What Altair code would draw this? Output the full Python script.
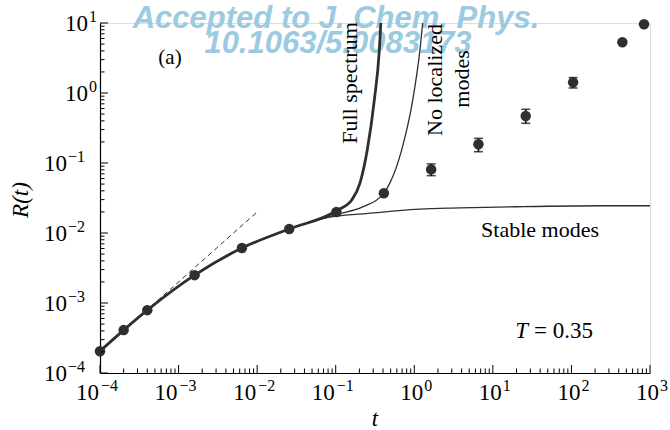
import altair as alt
import pandas as pd

# ---- simulation points R(t) with error bars ----
pt_t = [1e-4, 2e-4, 4e-4, 1.6e-3, 6.4e-3, 2.56e-2, 0.102, 0.41, 1.64, 6.55, 26.2, 105, 445, 839]
pt_R = [2.05e-4, 4.1e-4, 7.9e-4, 2.5e-3, 6.1e-3, 1.14e-2, 0.020, 0.037, 0.081, 0.185, 0.469, 1.42, 5.3, 9.6]

err_t = [1.64, 6.55, 26.2, 105]
err_lo = [0.066, 0.145, 0.369, 1.18]
err_hi = [0.097, 0.225, 0.585, 1.66]

# ---- harmonic predictions ----
full_t = [1e-4, 2e-4, 4e-4, 1.6e-3, 6.4e-3, 2.56e-2, 0.107, 0.16, 0.204, 0.252, 0.31, 0.359, 0.375]
full_R = [2.05e-4, 4.1e-4, 7.9e-4, 2.5e-3, 6.1e-3, 1.14e-2, 0.0213, 0.0296, 0.052, 0.153, 0.79, 4.1, 10.0]

noloc_t = [1e-4, 2e-4, 4e-4, 1.6e-3, 6.4e-3, 2.56e-2, 0.104, 0.224, 0.415, 0.49, 0.69, 0.955, 1.18, 1.28]
noloc_R = [2.05e-4, 4.1e-4, 7.9e-4, 2.5e-3, 6.1e-3, 1.14e-2, 0.0185, 0.0238, 0.0377, 0.052, 0.153, 0.79, 4.1, 10.0]

stable_t = [1e-4, 2e-4, 4e-4, 1.6e-3, 6.4e-3, 2.56e-2, 0.07, 0.26, 1.18, 3.8, 20, 231, 1000]
stable_R = [2.05e-4, 4.1e-4, 7.9e-4, 2.5e-3, 6.1e-3, 1.14e-2, 0.0162, 0.0191, 0.022, 0.0228, 0.0237, 0.0245, 0.0245]

# short-time ballistic guide
dash_t = [1e-4, 1e-2]
dash_R = [2e-4, 2e-2]

# ---- axis decades and tick labels ----
x_exponents = [-4, -3, -2, -1, 0, 1, 2, 3]
x_exp_labels = ["\u22124", "\u22123", "\u22122", "\u22121", "0", "1", "2", "3"]
y_exponents = [-4, -3, -2, -1, 0, 1]
y_exp_labels = ["\u22124", "\u22123", "\u22122", "\u22121", "0", "1"]
minor_mults = [2, 3, 4, 5, 6, 7, 8, 9]

W, H = 550, 350
INK = "#2f2f2f"
SERIF = "Liberation Serif"
WATERMARK = "#9ccae0"

xs = alt.Scale(type="log", domain=[1e-4, 1e3], nice=False)
ys = alt.Scale(type="log", domain=[1e-4, 1e1], nice=False)
AX = alt.Axis(labels=False, ticks=False, grid=False, title=None,
              domainColor="black", domainWidth=1.2)


def X(f):
    return alt.X(f"{f}:Q", scale=xs, axis=AX)


def Y(f):
    return alt.Y(f"{f}:Q", scale=ys, axis=AX)


def curve(ts, rs):
    return pd.DataFrame({"t": ts, "R": rs})


def note(text, x, y, size=21, **kw):
    return alt.Chart(alt.Data(values=[{}])).mark_text(
        text=text, font=SERIF, fontSize=size, color="black", **kw
    ).encode(x=alt.value(x), y=alt.value(y))


pts = pd.DataFrame({"t": pt_t, "R": pt_R})
errs = pd.DataFrame({"t": err_t, "lo": err_lo, "hi": err_hi})

# watermark
wm1 = alt.Chart(alt.Data(values=[{}])).mark_text(
    text="Accepted to J. Chem. Phys.", font="Liberation Sans", fontSize=31,
    fontWeight="bold", fontStyle="italic", color=WATERMARK, align="center",
    baseline="alphabetic").encode(x=alt.value(236), y=alt.value(5))
wm2 = alt.Chart(alt.Data(values=[{}])).mark_text(
    text="10.1063/5.0083173", font="Liberation Sans", fontSize=31,
    fontWeight="bold", fontStyle="italic", color=WATERMARK, align="center",
    baseline="alphabetic").encode(x=alt.value(238), y=alt.value(30))

dashed = alt.Chart(curve(dash_t, dash_R)).mark_line(
    color=INK, strokeWidth=1, strokeDash=[5, 3.5]).encode(x=X("t"), y=Y("R"))
stable = alt.Chart(curve(stable_t, stable_R)).mark_line(
    color=INK, strokeWidth=1.3, interpolate="monotone").encode(x=X("t"), y=Y("R"))
noloc = alt.Chart(curve(noloc_t, noloc_R)).mark_line(
    color=INK, strokeWidth=1.3, interpolate="monotone").encode(x=X("t"), y=Y("R"))
full = alt.Chart(curve(full_t, full_R)).mark_line(
    color=INK, strokeWidth=2.8, interpolate="monotone").encode(x=X("t"), y=Y("R"))

err_rule = alt.Chart(errs).mark_rule(color="black", strokeWidth=1.6).encode(
    x=X("t"), y=Y("lo"), y2="hi:Q")
cap_lo = alt.Chart(errs).mark_tick(color="black", thickness=1.6, size=9,
                                  orient="horizontal").encode(x=X("t"), y=Y("lo"))
cap_hi = alt.Chart(errs).mark_tick(color="black", thickness=1.6, size=9,
                                  orient="horizontal").encode(x=X("t"), y=Y("hi"))
points = alt.Chart(pts).mark_point(filled=True, shape="circle", size=110,
                                   color=INK, opacity=1).encode(x=X("t"), y=Y("R"))

# inward ticks, major and minor
x_major = pd.DataFrame({"v": [10.0 ** e for e in x_exponents]})
x_minor = pd.DataFrame({"v": [m * 10.0 ** e for e in x_exponents[:-1] for m in minor_mults]})
y_major = pd.DataFrame({"v": [10.0 ** e for e in y_exponents]})
y_minor = pd.DataFrame({"v": [m * 10.0 ** e for e in y_exponents[:-1] for m in minor_mults]})

xt_major = alt.Chart(x_major).mark_rule(color="black", strokeWidth=1).encode(
    x=X("v"), y=alt.value(H), y2=alt.value(H - 8))
xt_minor = alt.Chart(x_minor).mark_rule(color="black", strokeWidth=1).encode(
    x=X("v"), y=alt.value(H), y2=alt.value(H - 4.5))
yt_major = alt.Chart(y_major).mark_rule(color="black", strokeWidth=1).encode(
    y=Y("v"), x=alt.value(0), x2=alt.value(8))
yt_minor = alt.Chart(y_minor).mark_rule(color="black", strokeWidth=1).encode(
    y=Y("v"), x=alt.value(0), x2=alt.value(4.5))

# tick labels as 10 with a raised exponent
xl = pd.DataFrame({"v": [10.0 ** e for e in x_exponents], "e": x_exponents, "exp": x_exp_labels})
yl = pd.DataFrame({"v": [10.0 ** e for e in y_exponents], "e": y_exponents, "exp": y_exp_labels})

x_labels = []
for cond, d_base, d_exp in [(alt.datum.e < 0, -1, 1), (alt.datum.e >= 0, 9, 10)]:
    base = alt.Chart(xl).transform_filter(cond).mark_text(
        text="10", font=SERIF, fontSize=23, align="right", baseline="alphabetic",
        dx=d_base, color="black").encode(x=X("v"), y=alt.value(H + 27))
    sup = alt.Chart(xl).transform_filter(cond).mark_text(
        font=SERIF, fontSize=16, align="left", baseline="alphabetic",
        dx=d_exp, color="black").encode(x=X("v"), y=alt.value(H + 18), text="exp:N")
    x_labels += [base, sup]

y_labels = []
for cond, xb in [(alt.datum.e < 0, -33), (alt.datum.e >= 0, -12)]:
    base = alt.Chart(yl).transform_filter(cond).mark_text(
        text="10", font=SERIF, fontSize=23, align="right", baseline="alphabetic",
        dy=8, color="black").encode(y=Y("v"), x=alt.value(xb))
    sup = alt.Chart(yl).transform_filter(cond).mark_text(
        font=SERIF, fontSize=16, align="left", baseline="alphabetic",
        dy=-1, color="black").encode(y=Y("v"), x=alt.value(xb + 1), text="exp:N")
    y_labels += [base, sup]

notes = [
    note("(a)", 70, 41, size=21, align="center", baseline="alphabetic"),
    note("Full spectrum", 250, 60, size=22, angle=270, align="center", baseline="middle"),
    note("No localized", 335, 57, size=22, angle=270, align="center", baseline="middle"),
    note("modes", 362, 56, size=22, angle=270, align="center", baseline="middle"),
    note("Stable modes", 440, 214, size=22, align="center", baseline="alphabetic"),
    note("T", 428, 315, size=23, fontStyle="italic", align="right", baseline="alphabetic"),
    note("= 0.35", 434, 315, size=23, align="left", baseline="alphabetic"),
    note("R(t)", -79, 177, size=23, fontStyle="italic", angle=270, align="center",
         baseline="middle"),
    note("t", 275, 396, size=23, fontStyle="italic", align="center", baseline="middle"),
]

chart = alt.layer(
    wm1, wm2, dashed, stable, noloc, full, err_rule, cap_lo, cap_hi, points,
    xt_major, xt_minor, yt_major, yt_minor, *x_labels, *y_labels, *notes
).properties(
    width=W, height=H,
    autosize=alt.AutoSizeParams(type="none"),
    padding={"left": 100, "top": 23, "right": 20, "bottom": 57},
).configure_view(stroke=None).configure(background="white")

chart.save("out.html", embed_options={"renderer": "svg", "actions": False})
